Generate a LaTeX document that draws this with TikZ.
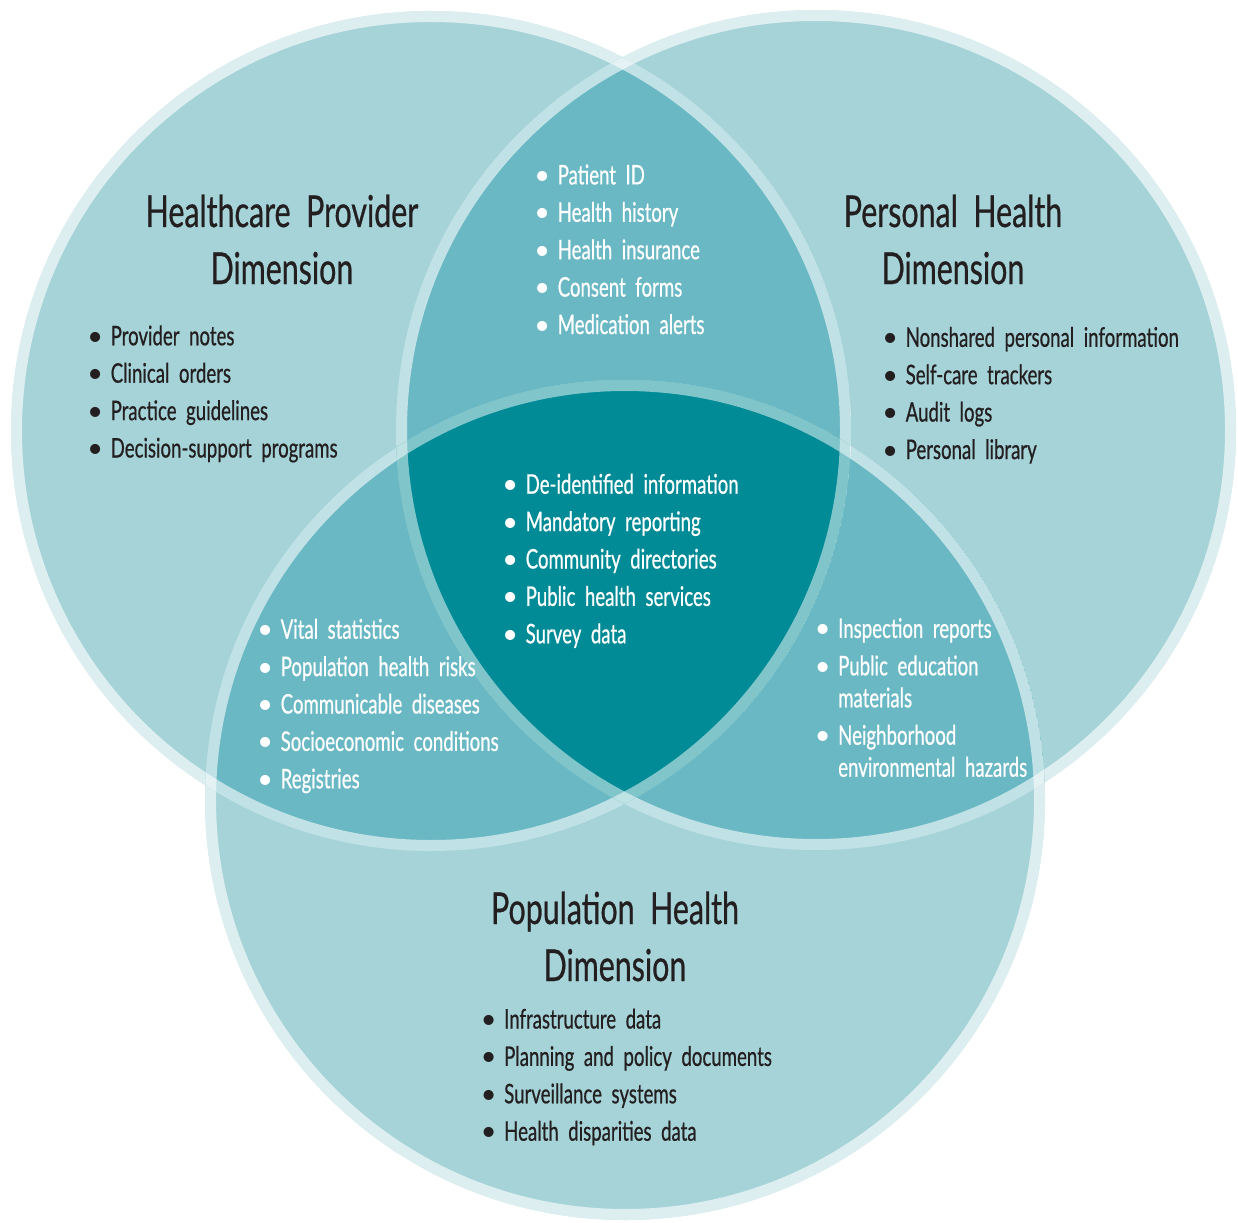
\documentclass[tikz,border=0pt]{standalone}
\usepackage{fontspec}
\setmainfont{Lato}[FakeStretch=0.69,FakeBold=0.6,WordSpace=2.0]
\newfontfamily\dotfont{Lato}
\definecolor{pale}{RGB}{165,211,216}
\definecolor{midteal}{RGB}{105,184,195}
\definecolor{deepteal}{RGB}{0,139,150}
\definecolor{ink}{RGB}{35,31,32}
\newcommand\bl{\makebox[15.5pt][l]{\makebox[0pt]{\dotfont\textbullet}}}
\newcommand\cont{\hspace*{15.5pt}}
\newcommand\rims[1]{%
  \draw[white,opacity=#1,line width=11pt] (cA) circle[radius=414.5];
  \draw[white,opacity=#1,line width=11pt] (cB) circle[radius=414.5];
  \draw[white,opacity=#1,line width=11pt] (cC) circle[radius=414.5];}
\begin{document}
\begin{tikzpicture}[x=1pt,y=-1pt,
  ttl/.style={text=ink,font=\fontsize{44}{57}\selectfont,align=center,inner sep=0pt,anchor=base},
  lst/.style={font=\fontsize{27}{32}\selectfont,align=left,inner sep=0pt,anchor=base west},
  darklist/.style={lst,text=ink},
  whitelist/.style={lst,text=white}]
\useasboundingbox (0,0) rectangle (1238,1222);
\coordinate (cA) at (431,431);
\coordinate (cB) at (816,430);
\coordinate (cC) at (625,800);
% single circles
\fill[pale] (cA) circle[radius=420];
\fill[pale] (cB) circle[radius=420];
\fill[pale] (cC) circle[radius=420];
\rims{0.62}
% pairwise overlaps
\begin{scope}
  \clip (cA) circle[radius=420];
  \clip (cB) circle[radius=420];
  \fill[midteal] (cA) circle[radius=420];
  \rims{0.58}
\end{scope}
\begin{scope}
  \clip (cA) circle[radius=420];
  \clip (cC) circle[radius=420];
  \fill[midteal] (cA) circle[radius=420];
  \rims{0.58}
\end{scope}
\begin{scope}
  \clip (cB) circle[radius=420];
  \clip (cC) circle[radius=420];
  \fill[midteal] (cB) circle[radius=420];
  \rims{0.58}
\end{scope}
% triple overlap
\begin{scope}
  \clip (cA) circle[radius=420];
  \clip (cB) circle[radius=420];
  \clip (cC) circle[radius=420];
  \fill[deepteal] (cA) circle[radius=420];
  \rims{0.5}
\end{scope}
% titles (anchored at the baseline of their last line)
\node[ttl] (tA) at (282,284) {Healthcare Provider\\Dimension};
\node[ttl] (tB) at (953,284) {Personal Health\\Dimension};
\node[ttl] (tC) at (615,981) {Population Health\\Dimension};
% lists (anchored at the baseline of their last line)
\node[darklist] (lA) at (95,457.5) {\bl Provider notes\\[5.4pt]\bl Clinical orders\\[5.4pt]\bl Practice guidelines\\[5.4pt]\bl Decision-support programs};
\node[whitelist] (lAB) at (542,334) {\bl Patient ID\\[5.4pt]\bl Health history\\[5.4pt]\bl Health insurance\\[5.4pt]\bl Consent forms\\[5.4pt]\bl Medication alerts};
\node[darklist] (lB) at (890,459) {\bl Nonshared personal information\\[5.4pt]\bl Self-care trackers\\[5.4pt]\bl Audit logs\\[5.4pt]\bl Personal library};
\node[whitelist] (lABC) at (510,643.3) {\bl De-identified information\\[5.4pt]\bl Mandatory reporting\\[5.4pt]\bl Community directories\\[5.4pt]\bl Public health services\\[5.4pt]\bl Survey data};
\node[whitelist] (lAC) at (265,788.3) {\bl Vital statistics\\[5.4pt]\bl Population health risks\\[5.4pt]\bl Communicable diseases\\[5.4pt]\bl Socioeconomic conditions\\[5.4pt]\bl Registries};
\node[whitelist] (lBC) at (822.5,776.7) {\bl Inspection reports\\[5.4pt]\bl Public education\\\cont materials\\[5.4pt]\bl Neighborhood\\\cont environmental hazards};
\node[darklist] (lC) at (488.5,1140.7) {\bl Infrastructure data\\[5.4pt]\bl Planning and policy documents\\[5.4pt]\bl Surveillance systems\\[5.4pt]\bl Health disparities data};
\end{tikzpicture}
\end{document}
